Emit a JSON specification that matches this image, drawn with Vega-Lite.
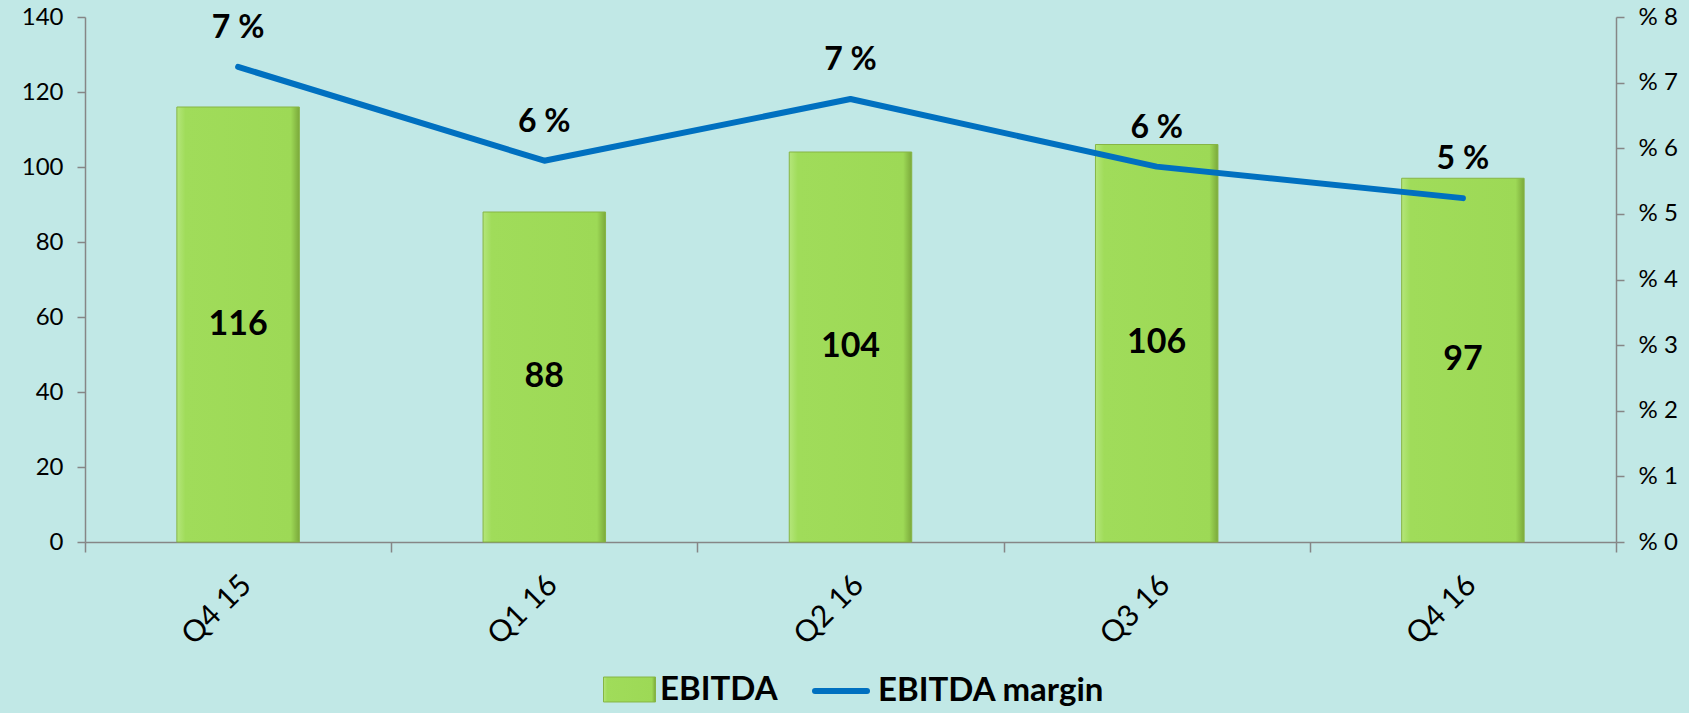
{
  "$schema": "https://vega.github.io/schema/vega-lite/v6.json",
  "width": 1531,
  "height": 525,
  "autosize": {"type": "none"},
  "padding": {"left": 85, "top": 17, "right": 73, "bottom": 171},
  "background": "#C1E8E6",
  "config": {
    "view": {"stroke": null},
    "font": "Lato",
    "axis": {"domainColor": "#868686", "domainWidth": 1.5, "tickColor": "#868686", "tickWidth": 1.5, "labelColor": "#000000", "labelFont": "Lato", "labelFontSize": 24, "grid": false, "title": null}
  },
  "data": {
    "values": [
      {"quarter": "Q4 15", "EBITDA": 116, "margin": 7.24, "marginLabel": "7 %"},
      {"quarter": "Q1 16", "EBITDA": 88, "margin": 5.81, "marginLabel": "6 %"},
      {"quarter": "Q2 16", "EBITDA": 104, "margin": 6.75, "marginLabel": "7 %"},
      {"quarter": "Q3 16", "EBITDA": 106, "margin": 5.72, "marginLabel": "6 %"},
      {"quarter": "Q4 16", "EBITDA": 97, "margin": 5.24, "marginLabel": "5 %"}
    ]
  },
  "transform": [{"calculate": "datum.EBITDA / 2", "as": "mid"}],
  "encoding": {
    "x": {
      "field": "quarter", "type": "nominal", "sort": null,
      "scale": {"paddingInner": 0, "paddingOuter": 0},
      "axis": {"labelAngle": -45, "tickBand": "extent", "tickSize": 10, "labelPadding": 28, "labelOffset": 8, "labelAlign": "right", "labelBaseline": "middle", "labelFontSize": 30}
    }
  },
  "layer": [
    {
      "layer": [
        {
          "mark": {"type": "bar", "width": {"band": 0.4}, "strokeWidth": 1,
            "fill": {"gradient": "linear", "x1": 0, "y1": 0, "x2": 1, "y2": 0, "stops": [{"offset": 0, "color": "#B4E67B"}, {"offset": 0.07, "color": "#A0DC5A"}, {"offset": 0.93, "color": "#9DD956"}, {"offset": 1, "color": "#7BA93B"}]}},
          "encoding": {
            "y": {"field": "EBITDA", "type": "quantitative", "scale": {"domain": [0, 140]}, "axis": {"values": [0, 20, 40, 60, 80, 100, 120, 140], "tickSize": 8, "labelPadding": 14}},
            "stroke": {
              "datum": "EBITDA",
              "scale": {"range": ["#86B545"]},
              "legend": {"orient": "none", "legendX": 518, "legendY": 646, "title": null, "padding": 0, "symbolType": "M-1,-0.48H1V0.48H-1Z", "symbolSize": 2704, "symbolStrokeWidth": 1, "labelFont": "Lato", "labelFontSize": 33, "labelFontWeight": "bold", "labelColor": "#000000", "labelOffset": 4, "labelLimit": 0,
                "encode": {"symbols": {"update": {"fill": {"value": {"gradient": "linear", "x1": 0, "y1": 0, "x2": 1, "y2": 0, "stops": [{"offset": 0, "color": "#B4E67B"}, {"offset": 0.1, "color": "#A0DC5A"}, {"offset": 0.9, "color": "#9DD956"}, {"offset": 1, "color": "#7BA93B"}]}}, "fillOpacity": {"value": 1}}}}}
            }
          }
        },
        {
          "mark": {"type": "text", "font": "Lato", "fontSize": 34, "fontWeight": "bold", "color": "#000000", "baseline": "middle"},
          "encoding": {
            "y": {"field": "mid", "type": "quantitative"},
            "text": {"field": "EBITDA", "type": "quantitative"}
          }
        }
      ]
    },
    {
      "layer": [
        {
          "mark": {"type": "line", "strokeWidth": 6, "strokeCap": "round", "strokeJoin": "round"},
          "encoding": {
            "y": {"field": "margin", "type": "quantitative", "scale": {"domain": [0, 8]}, "axis": {"orient": "right", "values": [0, 1, 2, 3, 4, 5, 6, 7, 8], "tickSize": 8, "labelPadding": 14, "labelExpr": "'% ' + datum.value"}},
            "stroke": {
              "datum": "EBITDA margin",
              "scale": {"range": ["#0070C0"]},
              "legend": {"orient": "none", "legendX": 727, "legendY": 645, "title": null, "padding": 0, "symbolType": "M-1,0H1", "symbolSize": 2704, "symbolStrokeWidth": 6, "labelFont": "Lato", "labelFontSize": 33, "labelFontWeight": "bold", "labelColor": "#000000", "labelOffset": 8, "labelLimit": 0, "encode": {"symbols": {"update": {"strokeCap": {"value": "round"}}}}}
            }
          }
        },
        {
          "mark": {"type": "text", "font": "Lato", "fontSize": 32, "fontWeight": "bold", "color": "#000000", "baseline": "middle", "dy": -39},
          "encoding": {
            "y": {"field": "margin", "type": "quantitative"},
            "text": {"field": "marginLabel", "type": "nominal"}
          }
        }
      ]
    }
  ],
  "resolve": {"scale": {"y": "independent", "stroke": "independent"}}
}
